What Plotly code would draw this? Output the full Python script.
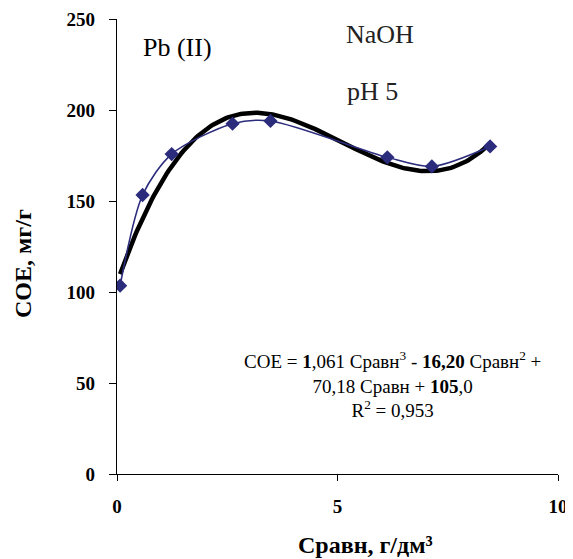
import numpy as np
import plotly.graph_objects as go

# Data
c_eq = [0.07, 0.58, 1.24, 2.62, 3.48, 6.13, 7.14, 8.46]
soe = [103.5, 153.3, 175.8, 192.5, 194.0, 174.0, 169.0, 180.0]

# Polynomial trendline coefficients (as shown on chart), highest power first
trend_coefs = [1.061, -16.20, 70.18, 105.0]

x_ticks = [0, 5, 10]
y_ticks = [0, 50, 100, 150, 200, 250]

xt = np.linspace(min(c_eq), max(c_eq), 200)
yt = np.polyval(trend_coefs, xt)

SERIF = "Liberation Serif"
NAVY = "#2B2C7C"

# page body has an 8px default margin; compensate
OFF = 8
W, H = 573 - OFF, 559 - OFF
L, R, T, B = 117 - OFF, 15, 19 - OFF, 85

fig = go.Figure()
fig.add_trace(go.Scatter(x=xt, y=yt, mode="lines",
                         line=dict(color="black", width=4.5), showlegend=False,
                         hoverinfo="skip"))
fig.add_trace(go.Scatter(x=c_eq, y=soe, mode="lines+markers",
                         line=dict(color=NAVY, width=1.6, shape="spline", smoothing=0.8),
                         marker=dict(symbol="diamond", size=11, color=NAVY),
                         showlegend=False))

def ann(text, x, y, size, color="black", angle=0):
    return dict(text=text, x=x, y=y, xref="paper", yref="paper", showarrow=False,
                xanchor="center", yanchor="middle", align="center", textangle=angle,
                font=dict(size=size, family=SERIF, color=color))

fig.update_layout(
    width=W, height=H,
    margin=dict(l=L, r=R, t=T, b=B, autoexpand=False),
    paper_bgcolor="white", plot_bgcolor="white",
    font=dict(family=SERIF, color="black"),
    xaxis=dict(range=[0, 10], tickvals=x_ticks, ticktext=[f"<b>{v}</b>" for v in x_ticks],
               showgrid=False, zeroline=False, showline=True, linecolor="black",
               linewidth=1.3, ticks="outside", ticklen=6, tickcolor="black",
               tickfont=dict(size=19, family=SERIF), ticklabelstandoff=9),
    yaxis=dict(range=[0, 250], tickvals=y_ticks, ticktext=[f"<b>{v}</b>" for v in y_ticks],
               showgrid=False, zeroline=False, showline=True, linecolor="black",
               linewidth=1.3, ticks="outside", ticklen=7, tickcolor="black",
               tickfont=dict(size=19, family=SERIF), ticklabelstandoff=10),
    annotations=[
        ann("Pb (II)", 177, 47, 26),
        ann("NaOH", 380, 35, 26, "#222"),
        ann("pH 5", 372, 91, 26, "#222"),
        ann("СОЕ = <b>1</b>,061 Сравн<sup>3</sup> - <b>16,20</b> Сравн<sup>2</sup> +<br>70,18 Сравн + <b>105</b>,0<br>R<sup>2</sup> = 0,953",
            392, 384, 19),
        ann("<b>Сравн, г/дм³</b>", 365, 545, 24),
        ann("<b>СОЕ, мг/г</b>", 23, 264, 24, angle=-90),
    ],
)

# convert page pixel coordinates (from top-left) to paper fractions
pw, ph = W - L - R, H - T - B
for a in fig.layout.annotations:
    a.x = (a.x - OFF - L) / pw
    a.y = (H - (a.y - OFF) - B) / ph

fig.write_html("out.html")
